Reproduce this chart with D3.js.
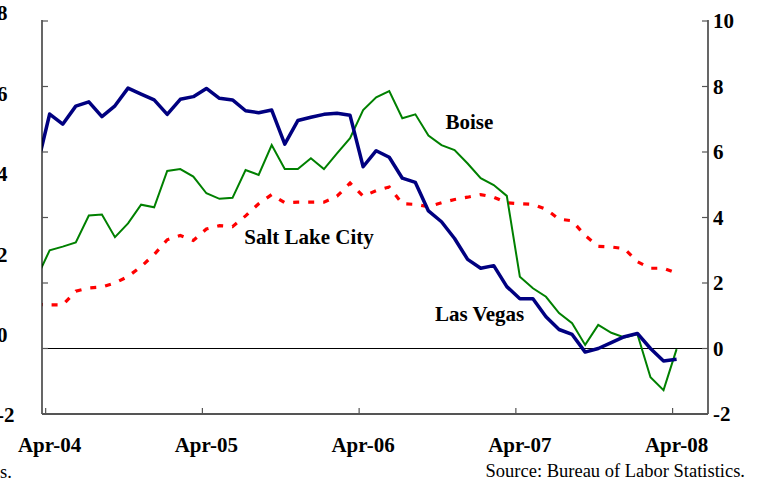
<!DOCTYPE html>
<html>
<head>
<meta charset="utf-8">
<script src="https://cdn.jsdelivr.net/npm/d3@7"></script>
<style>
  body { margin: 0; background: #fff; }
  svg { display: block; font-family: "Liberation Serif", "Times New Roman", serif; }
</style>
</head>
<body>
<div id="chart"></div>
<script>
// monthly, Mar-04 .. Apr-08 (first point sits just left of the axis and gets clipped)
const months = d3.timeMonth.range(new Date(2004, 2, 1), new Date(2008, 4, 1));

const lasVegas = [5.5, 7.16, 6.85, 7.40, 7.53, 7.08, 7.41, 7.95, 7.77, 7.59,
    7.15, 7.61, 7.69, 7.94, 7.64, 7.59, 7.26, 7.20, 7.28, 6.24,
    6.96, 7.06, 7.15, 7.18, 7.12, 5.55, 6.04, 5.84, 5.20, 5.07,
    4.2, 3.87, 3.36, 2.72, 2.45, 2.53, 1.89, 1.52, 1.52, 0.97,
    0.58, 0.43, -0.11, 0.0, 0.18, 0.36, 0.46, 0.0, -0.38, -0.33];

const boise = [2.15, 3.0, 3.11, 3.24, 4.06, 4.09, 3.40, 3.82, 4.39, 4.31,
    5.42, 5.48, 5.25, 4.74, 4.57, 4.60, 5.45, 5.30, 6.21, 5.48,
    5.48, 5.81, 5.48, 5.96, 6.42, 7.28, 7.67, 7.86, 7.03, 7.15,
    6.50, 6.21, 6.06, 5.65, 5.20, 4.99, 4.66, 2.19, 1.84, 1.58,
    1.08, 0.77, 0.11, 0.72, 0.48, 0.34, 0.44, -0.88, -1.27, -0.02];

const saltLakeCity = [1.35, 1.33, 1.33, 1.75, 1.85, 1.88, 2.0, 2.2, 2.5, 2.87,
    3.32, 3.45, 3.30, 3.65, 3.75, 3.72, 4.05, 4.42, 4.70, 4.45,
    4.47, 4.47, 4.47, 4.65, 5.05, 4.65, 4.82, 4.93, 4.42, 4.40,
    4.33, 4.45, 4.55, 4.62, 4.70, 4.62, 4.45, 4.42, 4.40, 4.25,
    3.95, 3.90, 3.45, 3.12, 3.10, 3.05, 2.65, 2.45, 2.45, 2.30];

const xTickIndex = [1, 13, 25, 37, 49];
const xTickLabels = ['Apr-04', 'Apr-05', 'Apr-06', 'Apr-07', 'Apr-08'];
const rightTicks = [-2, 0, 2, 4, 6, 8, 10];
const leftTicks = [-2, 0, 2, 4, 6, 8];   // stray labels from the neighbouring chart

const seriesLabels = [
    { name: 'Boise', i: 31.3, v: 6.7 },
    { name: 'Salt Lake City', i: 15.9, v: 3.2 },
    { name: 'Las Vegas', i: 30.5, v: 0.85 }
];

const width = 763, height = 485;
const plot = { left: 42, right: 708, top: 21, bottom: 414 };
const boldFont = 'bold 21px "Liberation Serif", serif';

const svg = d3.select('#chart').append('svg')
    .attr('width', width)
    .attr('height', height);

const x = d3.scaleLinear().domain([0, months.length - 1]).range([36.6, 676.6]);
const y = d3.scaleLinear().domain([-2, 10]).range([plot.bottom, plot.top]);
const yLeftLabels = d3.scaleLinear().domain([-2, 8]).range([415, 13]);

svg.append('clipPath').attr('id', 'plot-clip')
    .append('rect')
    .attr('x', plot.left).attr('y', 0)
    .attr('width', plot.right - plot.left).attr('height', height);

// zero line
svg.append('line')
    .attr('x1', plot.left).attr('x2', plot.right)
    .attr('y1', y(0)).attr('y2', y(0))
    .attr('stroke', '#000').attr('stroke-width', 1);

const line = vals => d3.line()
    .x((d, i) => x(i))
    .y(d => y(d))(vals);

const lines = svg.append('g').attr('clip-path', 'url(#plot-clip)');

lines.append('path')
    .attr('d', line(saltLakeCity))
    .attr('fill', 'none')
    .attr('stroke', '#ff0000')
    .attr('stroke-width', 3.2)
    .attr('stroke-dasharray', '6,9');

lines.append('path')
    .attr('d', line(boise))
    .attr('fill', 'none')
    .attr('stroke', '#008000')
    .attr('stroke-width', 2);

lines.append('path')
    .attr('d', line(lasVegas))
    .attr('fill', 'none')
    .attr('stroke', '#000080')
    .attr('stroke-width', 3.5)
    .attr('stroke-linejoin', 'round');

// axes frame
const frame = svg.append('g').attr('stroke', '#000').attr('stroke-width', 1.2);
frame.append('line').attr('x1', plot.left).attr('x2', plot.left).attr('y1', plot.top - 1).attr('y2', plot.bottom);
frame.append('line').attr('x1', plot.right).attr('x2', plot.right).attr('y1', plot.top - 1).attr('y2', plot.bottom);
svg.append('line')
    .attr('x1', plot.left).attr('x2', plot.right)
    .attr('y1', plot.bottom).attr('y2', plot.bottom)
    .attr('stroke', '#555').attr('stroke-width', 2);

// inward ticks on both vertical axes
svg.append('g').selectAll('line')
    .data(rightTicks)
    .join('line')
    .attr('x1', plot.left).attr('x2', plot.left + 6)
    .attr('y1', d => y(d)).attr('y2', d => y(d))
    .attr('stroke', '#555').attr('stroke-width', 1.2);

svg.append('g').selectAll('line')
    .data(rightTicks)
    .join('line')
    .attr('x1', plot.right - 6).attr('x2', plot.right)
    .attr('y1', d => y(d)).attr('y2', d => y(d))
    .attr('stroke', '#555').attr('stroke-width', 1.2);

svg.append('g').selectAll('text')
    .data(rightTicks)
    .join('text')
    .attr('x', 713)
    .attr('y', d => y(d))
    .attr('dy', '0.35em')
    .style('font', boldFont)
    .text(d => d);

svg.append('g').selectAll('text')
    .data(leftTicks)
    .join('text')
    .attr('x', -3)
    .attr('y', d => yLeftLabels(d))
    .attr('dy', '0.35em')
    .style('font', boldFont)
    .text(d => d);

// x axis: labels on the April points, tick marks a few px to the left
svg.append('g').selectAll('line')
    .data(xTickIndex)
    .join('line')
    .attr('x1', d => x(d) - 4).attr('x2', d => x(d) - 4)
    .attr('y1', plot.bottom - 6).attr('y2', plot.bottom)
    .attr('stroke', '#555').attr('stroke-width', 1.2);

svg.append('g').selectAll('text')
    .data(xTickIndex)
    .join('text')
    .attr('x', d => x(d))
    .attr('y', 452)
    .attr('text-anchor', 'middle')
    .style('font', boldFont)
    .text((d, i) => xTickLabels[i]);

svg.append('g').selectAll('text')
    .data(seriesLabels)
    .join('text')
    .attr('x', d => x(d.i))
    .attr('y', d => y(d.v))
    .style('font', boldFont)
    .text(d => d.name);

svg.append('text')
    .attr('x', 745).attr('y', 477)
    .attr('text-anchor', 'end')
    .style('font', '18.5px "Liberation Serif", serif')
    .text('Source: Bureau of Labor Statistics.');

svg.append('text')
    .attr('x', 0).attr('y', 478)
    .style('font', '18.5px "Liberation Serif", serif')
    .text('s.');
</script>
</body>
</html>
